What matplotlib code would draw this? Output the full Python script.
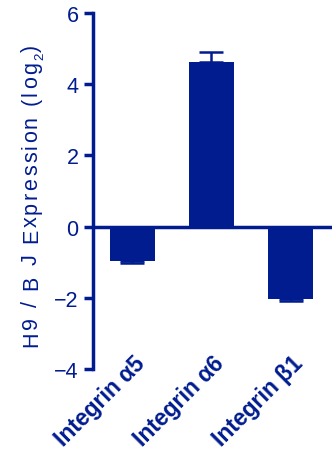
import matplotlib
matplotlib.use("Agg")
import matplotlib.pyplot as plt
import matplotlib.transforms as mtransforms
import numpy as np

plt.rcParams.update({
    "font.family": ["Liberation Sans", "DejaVu Sans"],
})

NAVY = "#001c8f"

genes = ["Integrin \u03b15", "Integrin \u03b16", "Integrin \u03b21"]
log2_ratio = [-0.96, 4.63, -2.03]
sem = [0.05, 0.28, 0.05]
yticks = [-4, -2, 0, 2, 4, 6]
# "_" marks the next character as a subscript
ylabel = "H9 / B J Expression (log_2)"

fig = plt.figure(figsize=(3.32, 4.52), dpi=100)
ax = fig.add_axes([0.280, 0.181, 0.720, 0.788])

x = np.arange(len(genes))
ax.bar(x, log2_ratio, width=0.57, color=NAVY, zorder=2)

# one-sided error bars pointing away from zero
lower = [s if v < 0 else 0 for v, s in zip(log2_ratio, sem)]
upper = [s if v >= 0 else 0 for v, s in zip(log2_ratio, sem)]
ax.errorbar(x, log2_ratio, yerr=[lower, upper], fmt="none", ecolor=NAVY,
            elinewidth=1.8, capsize=8.5, capthick=1.8, zorder=3)

ax.axhline(0, color=NAVY, lw=2.5, zorder=4)

ax.set_xlim(-0.5, 2.525)
ax.set_ylim(-4, 6)
ax.set_yticks(yticks)
ax.set_xticks([])
ax.tick_params(axis="y", length=6.5, width=2.5, color=NAVY, labelcolor=NAVY,
               labelsize=15.5, pad=4)

# category labels hang below the plot, rotated, ending just right of each bar
shift = mtransforms.ScaledTranslation(10 / 72, 4 / 72, fig.dpi_scale_trans)
trans = ax.get_xaxis_transform() + shift
for xi, name in zip(x, genes):
    ax.text(xi, 0, name, transform=trans, rotation=45, rotation_mode="anchor",
            ha="right", va="baseline", fontsize=16.5, fontweight="bold",
            color=NAVY, clip_on=False)

for side in ["top", "right", "bottom"]:
    ax.spines[side].set_visible(False)
ax.spines["left"].set_color(NAVY)
ax.spines["left"].set_linewidth(2.5)


def tracked_vertical_text(s, x_base, y_start, length, size):
    """Vertical text (reading upwards) with letter spacing, in pixels."""
    r = fig.canvas.get_renderer()

    def width(t, fs):
        tmp = fig.text(0, 0, t, fontsize=fs)
        w = tmp.get_window_extent(r).width
        tmp.remove()
        return w

    glyphs = []
    sub = False
    for ch in s:
        if ch == "_":
            sub = True
            continue
        glyphs.append((ch, size * 0.62 if sub else size, sub))
        sub = False

    adv = [width("x" + ch + "x", fs) - width("xx", fs) for ch, fs, _ in glyphs]
    gap = (length - sum(adv)) / (len(glyphs) - 1)
    y = y_start
    px = mtransforms.Affine2D().scale(1 / fig.dpi) + fig.dpi_scale_trans
    for (ch, fs, is_sub), a in zip(glyphs, adv):
        xb = x_base + (0.28 * size * fig.dpi / 72 if is_sub else 0)
        fig.text(xb, y, ch, transform=px, rotation=90, rotation_mode="anchor",
                 ha="left", va="baseline", fontsize=fs, color=NAVY)
        y += a + (gap * 0.3 if is_sub else gap)


tracked_vertical_text(ylabel, 37, 105, 304, 15.5)

fig.savefig("out.png", dpi=100)
